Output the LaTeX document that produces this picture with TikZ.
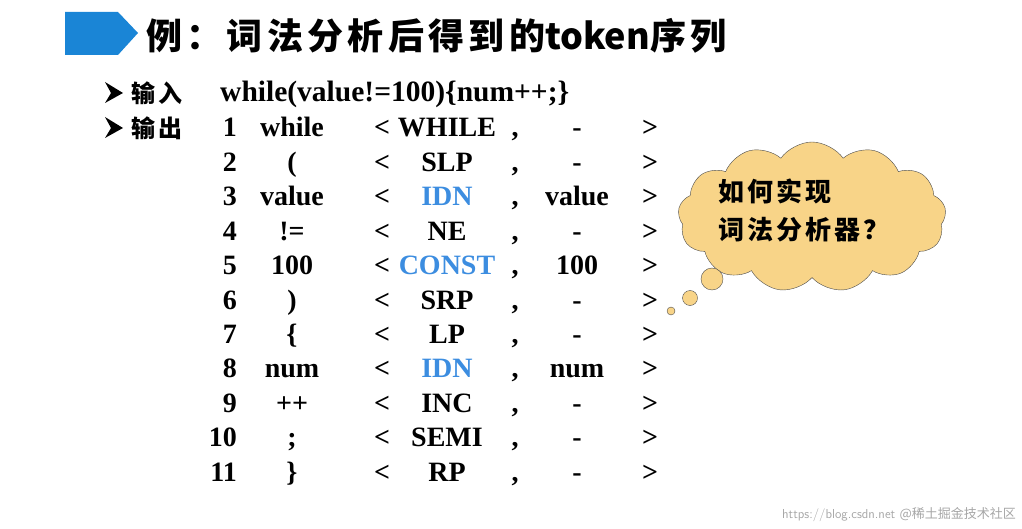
\documentclass[tikz,border=0pt]{standalone}
\usepackage{fontspec}
\setmainfont{Liberation Serif}
\newfontfamily\cjk{Noto Sans CJK SC}
\newfontfamily\cjksp[LetterSpace=12]{Noto Sans CJK SC}
\usetikzlibrary{shapes.symbols}
\definecolor{tblue}{HTML}{1A85D6}
\definecolor{idblue}{HTML}{3C8DE0}
\definecolor{cloudf}{HTML}{F8D488}
\begin{document}
\begin{tikzpicture}[x=1pt,y=-1pt,
  t/.style={font=\fontsize{28}{28}\selectfont\bfseries,inner sep=0pt,anchor=base},
  c/.style={font=\cjksp\fontsize{24}{24}\selectfont\bfseries,inner sep=0pt,anchor=base west}]
\useasboundingbox (0,0) rectangle (1022,529);
\fill[tblue] (65,12) -- (118,12) -- (138,33) -- (118,55) -- (65,55) -- cycle;
\node[inner sep=0pt,anchor=base west,font=\cjksp\fontsize{36}{36}\selectfont\bfseries] (title) at (146,50) {例：词法分析后得到的{\cjk token}序列};
\foreach \yy/\nm in {102/a1,137/a2}
  \fill (105,\yy-20) -- (123,\yy-9) -- (105,\yy+1) -- (111,\yy-9) -- cycle;
\node[c] (in) at (131,103) {输入};
\node[c] (out) at (131,138) {输出};
\node[t,anchor=base west,font=\fontsize{29.5}{29.5}\selectfont\bfseries] (src) at (220,102) {while(value!=100)\{num++;\}};
\foreach \i/\w/\tk/\col/\v [count=\r from 0] in {
 1/while/WHILE/black/-, 2/(/SLP/black/-, 3/value/IDN/idblue/value, 4/!=/NE/black/-,
 5/100/CONST/idblue/100, 6/)/SRP/black/-, 7/\{/LP/black/-, 8/num/IDN/idblue/num,
 9/++/INC/black/-, 10/;/SEMI/black/-, 11/\}/RP/black/-}{
  \pgfmathsetmacro\yy{137+34.4*\r}
  \node[t,anchor=base east] (n\i) at (237,\yy) {\i};
  \node[t] (w\i) at (292,\yy) {\w};
  \node[t] (lt\i) at (382,\yy) {<};
  \node[t,text=\col] (k\i) at (447,\yy) {\tk};
  \node[t] (cm\i) at (515,\yy) {,};
  \node[t] (v\i) at (577,\yy) {\v};
  \node[t] (gt\i) at (650,\yy) {>};
}
\node[cloud,cloud puffs=13,cloud puff arc=110,aspect=2.1,draw=black!70,fill=cloudf,
  minimum width=268pt,minimum height=150pt,inner sep=0pt] (cl) at (812,217) {};
\node[font=\cjksp\fontsize{26}{38}\selectfont\bfseries,align=left,anchor=west,inner sep=0pt] (q) at (718,210) {如何实现\\词法分析器？};
\foreach \x/\y/\rr [count=\k] in {712/279/11,690/298/7.5,671/311/4}
  \draw[draw=black!70,fill=cloudf] (\x,\y) circle (\rr) coordinate (b\k);
\node[anchor=base east,inner sep=0pt,text=black!35,font=\fontsize{13}{13}\selectfont\sffamily] (wm) at (1016,518) {https://blog.csdn.net \cjk @稀土掘金技术社区};
\end{tikzpicture}
\end{document}
